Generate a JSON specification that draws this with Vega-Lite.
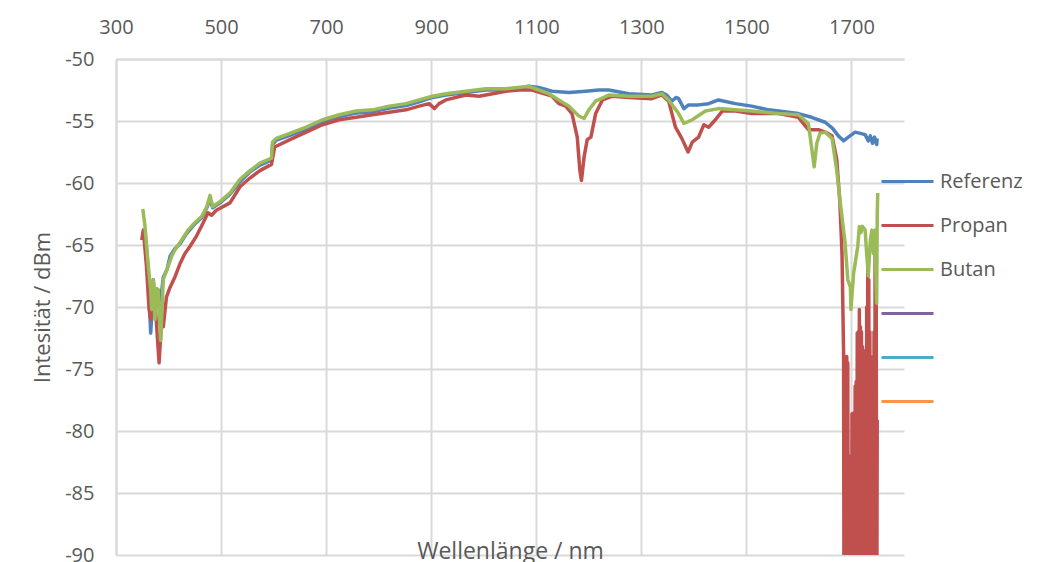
{
  "$schema": "https://vega.github.io/schema/vega-lite/v6.json",
  "width": 788,
  "height": 496,
  "autosize": {"type": "none"},
  "padding": {"left": 116, "top": 59, "right": 136, "bottom": 7},
  "background": "white",
  "config": {"view": {"stroke": null}, "font": "Open Sans"},
  "data": {"values": [
    {"s":"Referenz","x":351,"y":-64.6},{"s":"Referenz","x":355,"y":-63.8},{"s":"Referenz","x":361,"y":-66.7},{"s":"Referenz","x":366,"y":-72.1},{"s":"Referenz","x":371,"y":-68.4},{"s":"Referenz","x":377,"y":-69.9},{"s":"Referenz","x":380,"y":-68.6},{"s":"Referenz","x":385,"y":-69.5},{"s":"Referenz","x":390,"y":-67.6},{"s":"Referenz","x":397,"y":-67},{"s":"Referenz","x":403,"y":-65.9},{"s":"Referenz","x":412,"y":-65.3},{"s":"Referenz","x":422,"y":-64.9},{"s":"Referenz","x":434,"y":-64.1},{"s":"Referenz","x":450,"y":-63.3},{"s":"Referenz","x":463,"y":-62.8},{"s":"Referenz","x":473,"y":-62},{"s":"Referenz","x":479,"y":-61.3},{"s":"Referenz","x":484,"y":-62},{"s":"Referenz","x":498,"y":-61.6},{"s":"Referenz","x":517,"y":-60.9},{"s":"Referenz","x":536,"y":-59.9},{"s":"Referenz","x":555,"y":-59.1},{"s":"Referenz","x":574,"y":-58.55},{"s":"Referenz","x":596,"y":-58.15},{"s":"Referenz","x":598,"y":-56.9},{"s":"Referenz","x":605,"y":-56.55},{"s":"Referenz","x":631,"y":-56.15},{"s":"Referenz","x":662,"y":-55.65},{"s":"Referenz","x":693,"y":-55.05},{"s":"Referenz","x":725,"y":-54.65},{"s":"Referenz","x":757,"y":-54.35},{"s":"Referenz","x":788,"y":-54.25},{"s":"Referenz","x":820,"y":-53.95},{"s":"Referenz","x":852,"y":-53.75},{"s":"Referenz","x":877,"y":-53.45},{"s":"Referenz","x":902,"y":-53.1},{"s":"Referenz","x":928,"y":-52.9},{"s":"Referenz","x":966,"y":-52.7},{"s":"Referenz","x":1004,"y":-52.5},{"s":"Referenz","x":1042,"y":-52.5},{"s":"Referenz","x":1067,"y":-52.4},{"s":"Referenz","x":1086,"y":-52.2},{"s":"Referenz","x":1105,"y":-52.3},{"s":"Referenz","x":1130,"y":-52.6},{"s":"Referenz","x":1162,"y":-52.7},{"s":"Referenz","x":1194,"y":-52.6},{"s":"Referenz","x":1219,"y":-52.5},{"s":"Referenz","x":1238,"y":-52.5},{"s":"Referenz","x":1276,"y":-52.8},{"s":"Referenz","x":1320,"y":-52.9},{"s":"Referenz","x":1339,"y":-52.7},{"s":"Referenz","x":1348,"y":-52.9},{"s":"Referenz","x":1358,"y":-53.4},{"s":"Referenz","x":1366,"y":-53.1},{"s":"Referenz","x":1371,"y":-53.2},{"s":"Referenz","x":1381,"y":-54},{"s":"Referenz","x":1390,"y":-53.7},{"s":"Referenz","x":1409,"y":-53.7},{"s":"Referenz","x":1428,"y":-53.6},{"s":"Referenz","x":1447,"y":-53.3},{"s":"Referenz","x":1479,"y":-53.6},{"s":"Referenz","x":1510,"y":-53.8},{"s":"Referenz","x":1542,"y":-54.1},{"s":"Referenz","x":1561,"y":-54.2},{"s":"Referenz","x":1599,"y":-54.4},{"s":"Referenz","x":1624,"y":-54.7},{"s":"Referenz","x":1650,"y":-55.1},{"s":"Referenz","x":1664,"y":-55.6},{"s":"Referenz","x":1675,"y":-56.2},{"s":"Referenz","x":1685,"y":-56.6},{"s":"Referenz","x":1694,"y":-56.3},{"s":"Referenz","x":1707,"y":-55.9},{"s":"Referenz","x":1717,"y":-56},{"s":"Referenz","x":1726,"y":-56.1},{"s":"Referenz","x":1732,"y":-56.6},{"s":"Referenz","x":1736,"y":-56.2},{"s":"Referenz","x":1740,"y":-56.8},{"s":"Referenz","x":1744,"y":-56.3},{"s":"Referenz","x":1748,"y":-56.9},{"s":"Referenz","x":1749,"y":-56.4},
    {"s":"Propan","x":349,"y":-64.6},{"s":"Propan","x":352,"y":-63.8},{"s":"Propan","x":358,"y":-66.7},{"s":"Propan","x":363,"y":-70.2},{"s":"Propan","x":366,"y":-71},{"s":"Propan","x":371,"y":-67.8},{"s":"Propan","x":377,"y":-71.3},{"s":"Propan","x":382,"y":-74.5},{"s":"Propan","x":387,"y":-71},{"s":"Propan","x":390,"y":-71.6},{"s":"Propan","x":396,"y":-69.2},{"s":"Propan","x":403,"y":-68.4},{"s":"Propan","x":412,"y":-67.6},{"s":"Propan","x":422,"y":-66.5},{"s":"Propan","x":431,"y":-65.7},{"s":"Propan","x":441,"y":-65.1},{"s":"Propan","x":453,"y":-64.3},{"s":"Propan","x":466,"y":-63.2},{"s":"Propan","x":475,"y":-62.4},{"s":"Propan","x":482,"y":-62.6},{"s":"Propan","x":491,"y":-62.2},{"s":"Propan","x":517,"y":-61.6},{"s":"Propan","x":536,"y":-60.3},{"s":"Propan","x":555,"y":-59.6},{"s":"Propan","x":574,"y":-59},{"s":"Propan","x":596,"y":-58.5},{"s":"Propan","x":602,"y":-57.1},{"s":"Propan","x":631,"y":-56.5},{"s":"Propan","x":662,"y":-55.9},{"s":"Propan","x":693,"y":-55.3},{"s":"Propan","x":725,"y":-54.9},{"s":"Propan","x":757,"y":-54.7},{"s":"Propan","x":788,"y":-54.5},{"s":"Propan","x":820,"y":-54.3},{"s":"Propan","x":852,"y":-54.1},{"s":"Propan","x":877,"y":-53.8},{"s":"Propan","x":896,"y":-53.6},{"s":"Propan","x":906,"y":-54},{"s":"Propan","x":915,"y":-53.6},{"s":"Propan","x":928,"y":-53.3},{"s":"Propan","x":966,"y":-52.9},{"s":"Propan","x":991,"y":-53},{"s":"Propan","x":1017,"y":-52.8},{"s":"Propan","x":1042,"y":-52.6},{"s":"Propan","x":1067,"y":-52.5},{"s":"Propan","x":1092,"y":-52.5},{"s":"Propan","x":1130,"y":-53},{"s":"Propan","x":1143,"y":-53.6},{"s":"Propan","x":1156,"y":-53.8},{"s":"Propan","x":1168,"y":-54.4},{"s":"Propan","x":1178,"y":-56.3},{"s":"Propan","x":1183,"y":-59},{"s":"Propan","x":1186,"y":-59.8},{"s":"Propan","x":1191,"y":-57.9},{"s":"Propan","x":1197,"y":-56.5},{"s":"Propan","x":1204,"y":-56.3},{"s":"Propan","x":1213,"y":-54.4},{"s":"Propan","x":1226,"y":-53.3},{"s":"Propan","x":1245,"y":-53},{"s":"Propan","x":1276,"y":-53.1},{"s":"Propan","x":1320,"y":-53.2},{"s":"Propan","x":1339,"y":-52.9},{"s":"Propan","x":1352,"y":-53.4},{"s":"Propan","x":1365,"y":-55.5},{"s":"Propan","x":1377,"y":-56.4},{"s":"Propan","x":1389,"y":-57.5},{"s":"Propan","x":1397,"y":-56.7},{"s":"Propan","x":1409,"y":-56.3},{"s":"Propan","x":1419,"y":-55.3},{"s":"Propan","x":1428,"y":-55.5},{"s":"Propan","x":1441,"y":-54.9},{"s":"Propan","x":1454,"y":-54.2},{"s":"Propan","x":1479,"y":-54.2},{"s":"Propan","x":1510,"y":-54.4},{"s":"Propan","x":1561,"y":-54.4},{"s":"Propan","x":1599,"y":-54.7},{"s":"Propan","x":1618,"y":-55.7},{"s":"Propan","x":1637,"y":-55.7},{"s":"Propan","x":1650,"y":-55.9},{"s":"Propan","x":1663,"y":-56.2},{"s":"Propan","x":1672,"y":-58.1},{"s":"Propan","x":1678,"y":-61.6},{"s":"Propan","x":1682,"y":-65.7},{"s":"Propan","x":1685,"y":-73.7},
    {"s":"Propan","x":1686,"y":-100},{"s":"Propan","x":1687,"y":-74},{"s":"Propan","x":1688,"y":-100},{"s":"Propan","x":1689,"y":-74.3},{"s":"Propan","x":1690,"y":-100},{"s":"Propan","x":1691,"y":-74},{"s":"Propan","x":1692,"y":-100},{"s":"Propan","x":1693,"y":-74.5},{"s":"Propan","x":1694,"y":-100},{"s":"Propan","x":1695,"y":-83},{"s":"Propan","x":1696,"y":-100},{"s":"Propan","x":1697,"y":-83.1},{"s":"Propan","x":1698,"y":-100},{"s":"Propan","x":1699,"y":-82},{"s":"Propan","x":1700,"y":-100},{"s":"Propan","x":1701,"y":-78.6},{"s":"Propan","x":1702,"y":-100},{"s":"Propan","x":1703,"y":-78.6},{"s":"Propan","x":1704,"y":-100},{"s":"Propan","x":1705,"y":-78.5},{"s":"Propan","x":1706,"y":-100},{"s":"Propan","x":1707,"y":-76.4},{"s":"Propan","x":1708,"y":-100},{"s":"Propan","x":1709,"y":-76},{"s":"Propan","x":1710,"y":-100},{"s":"Propan","x":1711,"y":-72.1},{"s":"Propan","x":1712,"y":-100},{"s":"Propan","x":1713,"y":-72},{"s":"Propan","x":1714,"y":-100},{"s":"Propan","x":1715,"y":-70.2},{"s":"Propan","x":1716,"y":-100},{"s":"Propan","x":1717,"y":-71.6},{"s":"Propan","x":1718,"y":-100},{"s":"Propan","x":1719,"y":-72},{"s":"Propan","x":1720,"y":-100},{"s":"Propan","x":1721,"y":-73.2},{"s":"Propan","x":1722,"y":-100},{"s":"Propan","x":1723,"y":-73.5},{"s":"Propan","x":1724,"y":-100},{"s":"Propan","x":1725,"y":-74.5},{"s":"Propan","x":1726,"y":-100},{"s":"Propan","x":1727,"y":-74.8},{"s":"Propan","x":1728,"y":-100},{"s":"Propan","x":1729,"y":-70},{"s":"Propan","x":1730,"y":-100},{"s":"Propan","x":1731,"y":-66.5},{"s":"Propan","x":1732,"y":-100},{"s":"Propan","x":1733,"y":-67.8},{"s":"Propan","x":1734,"y":-100},{"s":"Propan","x":1735,"y":-72},{"s":"Propan","x":1736,"y":-100},{"s":"Propan","x":1737,"y":-74.5},{"s":"Propan","x":1738,"y":-100},{"s":"Propan","x":1739,"y":-74.5},{"s":"Propan","x":1740,"y":-100},{"s":"Propan","x":1741,"y":-74},{"s":"Propan","x":1742,"y":-100},{"s":"Propan","x":1743,"y":-72},{"s":"Propan","x":1744,"y":-100},{"s":"Propan","x":1745,"y":-65.7},{"s":"Propan","x":1746,"y":-100},{"s":"Propan","x":1747,"y":-66},{"s":"Propan","x":1748,"y":-100},{"s":"Propan","x":1749,"y":-79.1},
    {"s":"Butan","x":351,"y":-62.1},{"s":"Butan","x":355,"y":-63.4},{"s":"Butan","x":361,"y":-66.5},{"s":"Butan","x":366,"y":-68.6},{"s":"Butan","x":368,"y":-70.2},{"s":"Butan","x":371,"y":-67.8},{"s":"Butan","x":374,"y":-71},{"s":"Butan","x":377,"y":-68.5},{"s":"Butan","x":380,"y":-68.6},{"s":"Butan","x":385,"y":-72.7},{"s":"Butan","x":390,"y":-67.8},{"s":"Butan","x":395,"y":-67.2},{"s":"Butan","x":401,"y":-66.5},{"s":"Butan","x":406,"y":-65.9},{"s":"Butan","x":412,"y":-65.4},{"s":"Butan","x":425,"y":-64.6},{"s":"Butan","x":437,"y":-63.8},{"s":"Butan","x":450,"y":-63.2},{"s":"Butan","x":463,"y":-62.7},{"s":"Butan","x":473,"y":-61.9},{"s":"Butan","x":479,"y":-61},{"s":"Butan","x":484,"y":-61.9},{"s":"Butan","x":498,"y":-61.5},{"s":"Butan","x":517,"y":-60.8},{"s":"Butan","x":536,"y":-59.7},{"s":"Butan","x":555,"y":-59},{"s":"Butan","x":574,"y":-58.4},{"s":"Butan","x":596,"y":-58},{"s":"Butan","x":598,"y":-56.7},{"s":"Butan","x":605,"y":-56.4},{"s":"Butan","x":631,"y":-56},{"s":"Butan","x":662,"y":-55.5},{"s":"Butan","x":693,"y":-54.9},{"s":"Butan","x":725,"y":-54.5},{"s":"Butan","x":757,"y":-54.2},{"s":"Butan","x":788,"y":-54.1},{"s":"Butan","x":820,"y":-53.8},{"s":"Butan","x":852,"y":-53.6},{"s":"Butan","x":877,"y":-53.3},{"s":"Butan","x":902,"y":-53},{"s":"Butan","x":928,"y":-52.8},{"s":"Butan","x":966,"y":-52.6},{"s":"Butan","x":1004,"y":-52.4},{"s":"Butan","x":1042,"y":-52.4},{"s":"Butan","x":1086,"y":-52.2},{"s":"Butan","x":1105,"y":-52.5},{"s":"Butan","x":1124,"y":-52.8},{"s":"Butan","x":1143,"y":-53.3},{"s":"Butan","x":1162,"y":-53.8},{"s":"Butan","x":1181,"y":-54.6},{"s":"Butan","x":1191,"y":-54.8},{"s":"Butan","x":1200,"y":-54.1},{"s":"Butan","x":1213,"y":-53.4},{"s":"Butan","x":1238,"y":-52.9},{"s":"Butan","x":1276,"y":-53},{"s":"Butan","x":1320,"y":-53},{"s":"Butan","x":1339,"y":-52.8},{"s":"Butan","x":1352,"y":-53.3},{"s":"Butan","x":1364,"y":-54},{"s":"Butan","x":1371,"y":-54.4},{"s":"Butan","x":1381,"y":-55.2},{"s":"Butan","x":1397,"y":-54.9},{"s":"Butan","x":1422,"y":-54.2},{"s":"Butan","x":1447,"y":-54},{"s":"Butan","x":1479,"y":-54.1},{"s":"Butan","x":1510,"y":-54.2},{"s":"Butan","x":1561,"y":-54.4},{"s":"Butan","x":1599,"y":-54.5},{"s":"Butan","x":1618,"y":-55.2},{"s":"Butan","x":1624,"y":-57.1},{"s":"Butan","x":1629,"y":-58.7},{"s":"Butan","x":1634,"y":-56.8},{"s":"Butan","x":1640,"y":-56},{"s":"Butan","x":1650,"y":-55.9},{"s":"Butan","x":1663,"y":-56.4},{"s":"Butan","x":1672,"y":-59},{"s":"Butan","x":1678,"y":-61.3},{"s":"Butan","x":1688,"y":-64.9},{"s":"Butan","x":1693,"y":-67.8},{"s":"Butan","x":1698,"y":-68.4},{"s":"Butan","x":1699,"y":-70.2},{"s":"Butan","x":1704,"y":-67.3},{"s":"Butan","x":1708,"y":-66.2},{"s":"Butan","x":1712,"y":-65.1},{"s":"Butan","x":1715,"y":-63.5},{"s":"Butan","x":1718,"y":-64},{"s":"Butan","x":1721,"y":-63.5},{"s":"Butan","x":1726,"y":-63.8},{"s":"Butan","x":1729,"y":-65.7},{"s":"Butan","x":1732,"y":-67.5},{"s":"Butan","x":1736,"y":-64.6},{"s":"Butan","x":1739,"y":-63.8},{"s":"Butan","x":1742,"y":-65.7},{"s":"Butan","x":1745,"y":-63.8},{"s":"Butan","x":1747,"y":-68.4},{"s":"Butan","x":1748,"y":-69.7},{"s":"Butan","x":1749,"y":-62.7},{"s":"Butan","x":1750,"y":-60.8}
  ]},
  "encoding": {
    "y": {
      "field": "y", "type": "quantitative",
      "scale": {"domain": [-90, -50], "nice": false, "zero": false},
      "axis": {
        "title": "Intesität / dBm",
        "values": [-90, -85, -80, -75, -70, -65, -60, -55, -50],
        "labelExpr": "'' + datum.value",
        "grid": true, "gridColor": "#D9D9D9", "gridWidth": 2,
        "domainColor": "#D9D9D9", "domainWidth": 2,
        "ticks": false, "labelPadding": 22, "labelFlush": false,
        "labelFontSize": 20, "labelColor": "#595959", "labelFont": "Open Sans",
        "titleFontSize": 22, "titleFontWeight": "normal", "titleColor": "#595959", "titleFont": "Open Sans",
        "titleX": -74, "titleY": 248, "titleAngle": -90, "titleBaseline": "middle", "titleAlign": "center"
      }
    },
    "color": {
      "field": "s", "type": "nominal",
      "scale": {
        "domain": ["Referenz", "Propan", "Butan", "Reihe4", "Reihe5", "Reihe6"],
        "range": ["#4F81BD", "#C0504D", "#9BBB59", "#8064A2", "#4BACC6", "#F79646"]
      },
      "legend": {
        "orient": "none", "legendX": 780, "legendY": 111, "title": null,
        "symbolType": "M-2.6,0H2.6", "symbolSize": 400, "symbolStrokeWidth": 3,
        "labelFontSize": 20, "labelColor": "#595959", "labelFont": "Open Sans",
        "labelOffset": 21, "rowPadding": 22,
        "labelExpr": "indexof(['Referenz','Propan','Butan'], datum.label) >= 0 ? datum.label : ''"
      }
    }
  },
  "layer": [
    {
      "transform": [{"filter": "datum.s === 'Referenz'"}],
      "mark": {"type": "line", "clip": true, "strokeWidth": 3.5, "strokeJoin": "round"},
      "encoding": {
        "x": {
          "field": "x", "type": "quantitative",
          "scale": {"domain": [300, 1800], "nice": false, "zero": false},
          "axis": {
            "orient": "top", "title": null,
            "values": [300, 500, 700, 900, 1100, 1300, 1500, 1700],
            "labelExpr": "'' + datum.value",
            "grid": true, "gridColor": "#D9D9D9", "gridWidth": 2,
            "domainColor": "#D9D9D9", "domainWidth": 2,
            "ticks": false, "labelPadding": 22, "labelFlush": false,
            "labelFontSize": 20, "labelColor": "#595959", "labelFont": "Open Sans"
          }
        }
      }
    },
    {
      "transform": [{"filter": "datum.s === 'Propan'"}],
      "mark": {"type": "line", "clip": true, "strokeWidth": 3.5, "strokeJoin": "round"},
      "encoding": {"x": {"field": "x", "type": "quantitative", "axis": null}}
    },
    {
      "transform": [{"filter": "datum.s === 'Butan'"}],
      "mark": {"type": "line", "clip": true, "strokeWidth": 3.5, "strokeJoin": "round"},
      "encoding": {
        "x": {
          "field": "x", "type": "quantitative",
          "axis": {
            "orient": "bottom", "title": "Wellenlänge / nm",
            "labels": false, "ticks": false, "domain": false, "grid": false,
            "titleFontSize": 23, "titleFontWeight": "normal", "titleColor": "#595959", "titleFont": "Open Sans",
            "titleY": 3, "titleBaseline": "alphabetic"
          }
        }
      }
    }
  ],
  "resolve": {"axis": {"x": "independent"}}
}
